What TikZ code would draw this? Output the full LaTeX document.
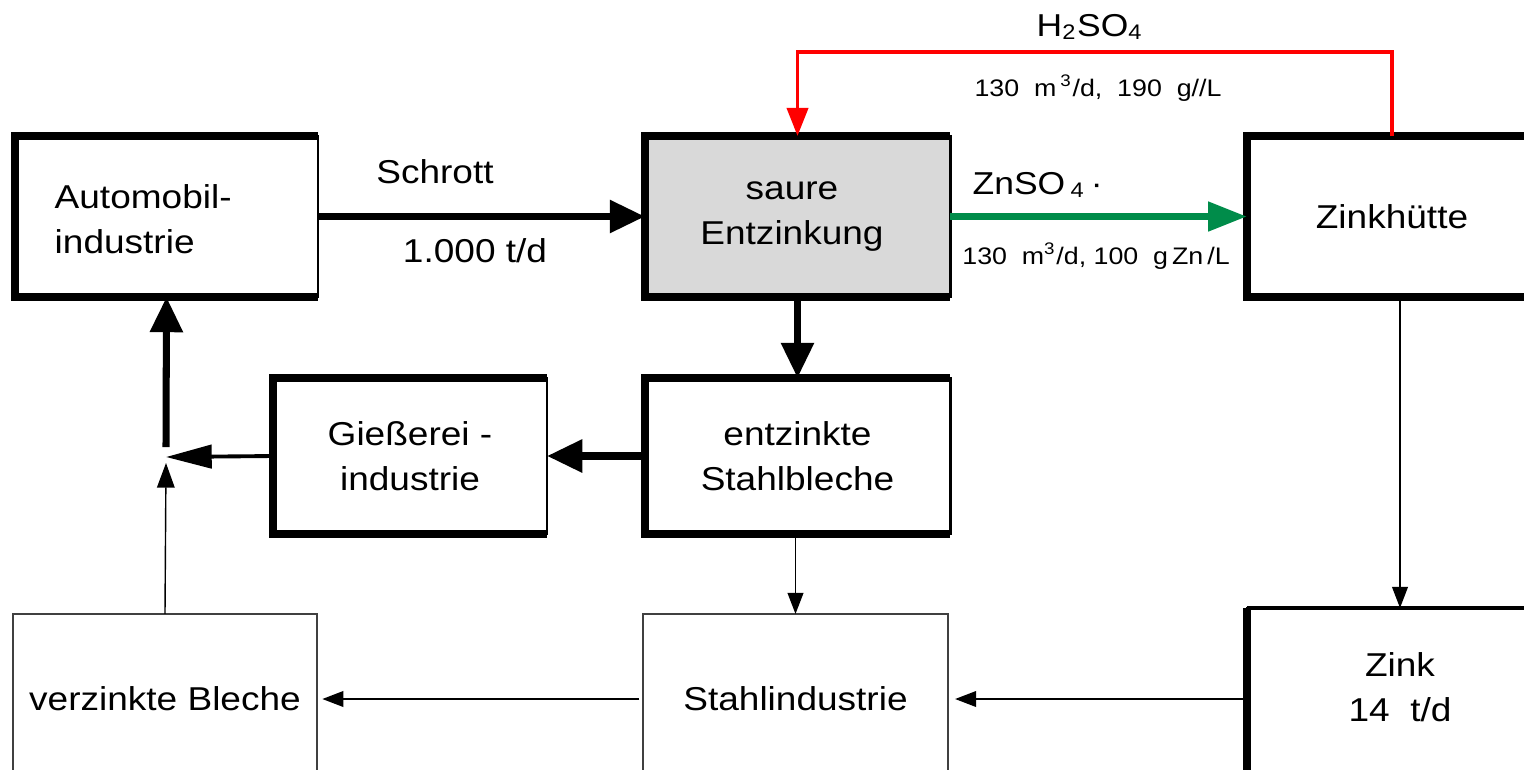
\documentclass[tikz,border=0pt]{standalone}
\usepackage{fontspec}
\setmainfont{Liberation Sans}[FakeStretch=1.12]
\usetikzlibrary{arrows.meta}
\definecolor{boxgray}{HTML}{D9D9D9}
\definecolor{flowgreen}{HTML}{008C4A}
\definecolor{flowred}{HTML}{FF0000}
\begin{document}
\begin{tikzpicture}[x=0.01cm,y=-0.01cm,
  mainfont/.style={font=\fontsize{9.4}{12.8}\selectfont},
  smallfont/.style={font=\fontsize{6.8}{8}\selectfont},
  tbox/.style={draw, line width=0.8pt, outer sep=0pt, inner sep=0pt, align=center, mainfont},
  thinbox/.style={draw, line width=0.5pt, draw=black!75, outer sep=0pt, inner sep=0pt, align=center, mainfont},
  heavyedge/.style={line width=2.3pt, line join=miter},
  bigarrow/.style={line width=2pt, -{Triangle[length=10pt,width=9pt]}},
  midarrow/.style={line width=1.1pt, -{Triangle[length=13pt,width=6.6pt]}},
  smallarrow/.style={line width=0.4pt, -{Triangle[length=6pt,width=4.5pt]}},
  lbl/.style={inner sep=0pt}
]
\clip (0,0) rectangle (1524,769);
% boxes
\node[tbox, minimum width=3.03cm, minimum height=1.61cm] (auto) at (166.5,216.5) {};
\node[lbl, mainfont, align=left, anchor=west] (autotext) at (54,219) {Automobil-\\industrie};
\node[tbox, fill=boxgray, minimum width=3.05cm, minimum height=1.61cm] (saure) at (797.5,216.5) {};
\node[lbl, mainfont, align=center] (sauretext) at (792,217) {saure\\Entzinkung};
\node[tbox, minimum width=2.9cm, minimum height=1.61cm] (zinkh) at (1392,216.5) {Zinkhütte};
\node[tbox, minimum width=2.74cm, minimum height=1.56cm] (gies) at (410,456) {Gießerei -\\industrie};
\node[tbox, minimum width=3.05cm, minimum height=1.56cm] (entz) at (797.5,456) {entzinkte\\Stahlbleche};
\node[tbox, minimum width=3.06cm, minimum height=1.75cm] (zink) at (1400,695.5) {};
\node[lbl, mainfont, align=center] (zinktext) at (1400,687) {Zink\\14~~t/d};
\node[thinbox, minimum width=3.04cm, minimum height=1.7cm] (verz) at (165,699) {verzinkte Bleche};
\node[thinbox, minimum width=3.05cm, minimum height=1.7cm] (stahl) at (795.5,699) {Stahlindustrie};
% heavy borders (top, left, bottom)
\foreach \n in {auto,saure,zinkh,gies,entz}
  \draw[heavyedge] (\n.north east) -- (\n.north west) -- (\n.south west) -- (\n.south east);
\draw[line width=1.2pt] (zink.north east) -- (zink.north west);
\draw[heavyedge] (zink.north west) -- (zink.south west);
% helper coordinates
\coordinate (rtop) at (1100,52);
\coordinate (J) at (166,457);
\coordinate (Jup) at (166,447);
\coordinate (Jlow) at (166,463);
% connectors
\draw[bigarrow] (auto.east) -- (saure.west);
\draw[bigarrow, flowgreen, -{Triangle[length=11pt,width=8pt]}] (saure.east) -- (zinkh.west);
\draw[flowred, line width=1.1pt, -{Triangle[length=8pt,width=6pt]}] (zinkh.north) |- (rtop) -| (saure.north);
\draw[bigarrow] (saure.south) -- (entz.north);
\draw[bigarrow] (entz.west) -- (gies.east);
\draw[midarrow] (gies.west) -- (J);
\draw[bigarrow] (Jup) -- (auto.south);
\draw[smallarrow, -{Triangle[length=7pt,width=5pt]}] (verz.north) -- (Jlow);
\draw[smallarrow] (zinkh.south -| zink.north) -- (zink.north);
\draw[smallarrow] (zink.west |- stahl.east) -- ([xshift=2pt]stahl.east);
\draw[smallarrow] ([xshift=-1pt]stahl.west) -- ([xshift=1.5pt]verz.east);
\draw[smallarrow] (entz.south -| stahl.north) -- (stahl.north);
% labels
\node[lbl, mainfont] (schrott) at (435,172) {Schrott};
\node[lbl, mainfont] (menge) at (475,251) {1.000 t/d};
\node[lbl, font=\fontsize{9}{10}\selectfont] (h2so4) at (1090,27) {H\textsubscript{2}SO\textsubscript{4}};
\node[lbl, smallfont] (h2so4m) at (1098,88) {130~~m\,\textsuperscript{3}/d,~~190~~g//L};
\node[lbl, font=\fontsize{9}{10}\selectfont, anchor=west] (znso4) at (972,185) {ZnSO\,\textsubscript{4}\,·};
\node[lbl, smallfont] (znso4m) at (1096,256) {130~~m\textsuperscript{3}/d, 100~~g\,Zn\,/L};
\end{tikzpicture}
\end{document}
